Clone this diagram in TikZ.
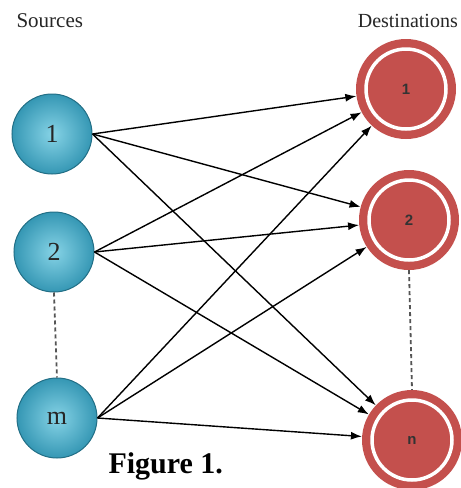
\documentclass[tikz,border=0pt]{standalone}
\usepackage{fontspec}
\setmainfont{Liberation Serif}
\newfontfamily\labsans{Liberation Sans}
\usetikzlibrary{arrows.meta}
\definecolor{bluein}{HTML}{86D3E6}
\definecolor{blueout}{HTML}{3597B4}
\definecolor{blueedge}{HTML}{226F86}
\definecolor{redfill}{HTML}{C4504D}
\definecolor{dashgray}{HTML}{555555}
\begin{document}
\begin{tikzpicture}[x=1pt,y=-1pt,
  src/.style={circle, minimum size=80pt, inner sep=0pt, draw=blueedge, line width=1pt,
    inner color=bluein, outer color=blueout, font=\fontsize{26}{26}\selectfont, text=black!85},
  dst/.style={circle, minimum size=100pt, inner sep=0pt, fill=redfill,
    font=\labsans\bfseries\fontsize{15}{15}\selectfont, text=black!80},
  conn/.style={-{Latex[length=11pt,width=8pt]}, line width=1.4pt, black},
  dotline/.style={dashgray, line width=1.8pt, dash pattern=on 4pt off 3pt}]
\useasboundingbox (0,0) rectangle (461,488);
\fill[white] (0,0) rectangle (461,488);
\node[anchor=base west, font=\fontsize{21}{21}\selectfont, text=black!85] (srcs) at (13,27) {Sources};
\node[anchor=base east, font=\fontsize{20}{20}\selectfont, text=black!85, inner sep=1pt] (dsts) at (459,27) {Destinations};
\node[src] (s1) at (52,134) {1};
\node[src] (s2) at (54,252) {2};
\node[src] (sm) at (57,418) {m};
\node[dst] (d1) at (406,89) {1};
\node[dst] (d2) at (409,220) {2};
\node[dst] (dn) at (412,440) {n};
\foreach \d in {d1,d2,dn}{\draw[white, line width=3.5pt] (\d) circle (40pt);}
\draw[dotline] (s2.south) -- (sm.north);
\draw[dotline] (d2.south) -- (dn.north);
\foreach \s in {s1,s2,sm}{
  \foreach \d in {d1,d2,dn}{
    \draw[conn] (\s.east) -- (\d);
  }
}
\node[anchor=base west, font=\bfseries\fontsize{30}{30}\selectfont] (fig) at (105,473) {Figure 1.};
\end{tikzpicture}
\end{document}
